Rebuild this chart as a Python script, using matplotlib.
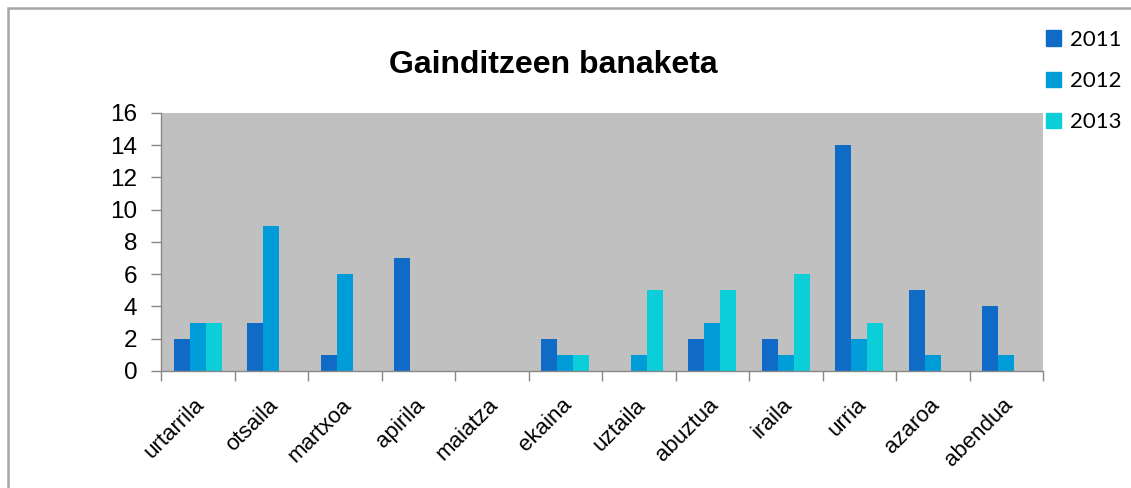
import matplotlib.pyplot as plt
import matplotlib.patches as mpatches
import matplotlib.transforms as mtransforms
import numpy as np

months = ["urtarrila", "otsaila", "martxoa", "apirila", "maiatza", "ekaina",
          "uztaila", "abuztua", "iraila", "urria", "azaroa", "abendua"]
v2011 = [2, 3, 1, 7, 0, 2, 0, 2, 2, 14, 5, 4]
v2012 = [3, 9, 6, 0, 0, 1, 1, 3, 1, 2, 1, 1]
v2013 = [3, 0, 0, 0, 0, 1, 5, 5, 6, 3, 0, 0]
years = ["2011", "2012", "2013"]
colors = ["#0F6BC6", "#009CD8", "#0BCED8"]

plt.rcParams['font.family'] = ['Liberation Sans', 'DejaVu Sans']

fig = plt.figure(figsize=(11.31, 4.88), dpi=100)
ax = fig.add_axes([0.1424, 0.2398, 0.7798, 0.5287])
ax.set_facecolor("#C0C0C0")

x = np.arange(len(months))
w = 0.218
for i, (vals, c) in enumerate(zip([v2011, v2012, v2013], colors)):
	ax.bar(x + (i - 1) * w, vals, width=w, color=c, edgecolor="none", label=years[i])

ax.set_xlim(-0.5, len(months) - 0.5)
ax.set_ylim(0, 16)
ax.set_yticks(range(0, 17, 2))
ax.tick_params(axis='y', labelsize=17.5, length=7, width=1, color="#888888", pad=10, direction='out')

# category separators as ticks, labels at centers
ax.set_xticks(np.arange(-0.5, len(months), 1.0))
ax.set_xticklabels([])
ax.set_xticks(x, minor=True)
ax.set_xticklabels(months, minor=True, rotation=45, ha='right', va='top', rotation_mode='anchor', fontsize=16)
ax.tick_params(axis='x', which='major', length=7, width=1, color="#888888", direction='out')
ax.tick_params(axis='x', which='minor', length=0, pad=17)
shift = mtransforms.ScaledTranslation(-4 / 100, 0, fig.dpi_scale_trans)
for lbl in ax.get_xticklabels(minor=True):
	lbl.set_transform(lbl.get_transform() + shift)

for s in ["top", "right"]:
	ax.spines[s].set_visible(False)
for s in ["left", "bottom"]:
	ax.spines[s].set_color("#888888")
	ax.spines[s].set_linewidth(1)

fig.text(0.4894, 0.867, "Gainditzeen banaketa", ha='center', va='center', fontsize=23, weight='bold')

leg_handles = [mpatches.Patch(color=c) for c in colors]
fig.legend(leg_handles, years, loc='upper left', bbox_to_anchor=(0.9205, 0.948), frameon=False,
	prop={'family': 'Lato', 'size': 16}, handlelength=0.7, handleheight=0.7,
	handletextpad=0.4, labelspacing=0.96, borderaxespad=0, borderpad=0.2)

# outer chart border (only top and left visible)
fig.patches.append(mpatches.Rectangle((7.5 / 1131, -0.2), 1.5, 1.2 - 7.5 / 488,
	transform=fig.transFigure, fill=False, edgecolor="#A6A6A6", linewidth=1.8))

fig.savefig("out.png", dpi=100)
